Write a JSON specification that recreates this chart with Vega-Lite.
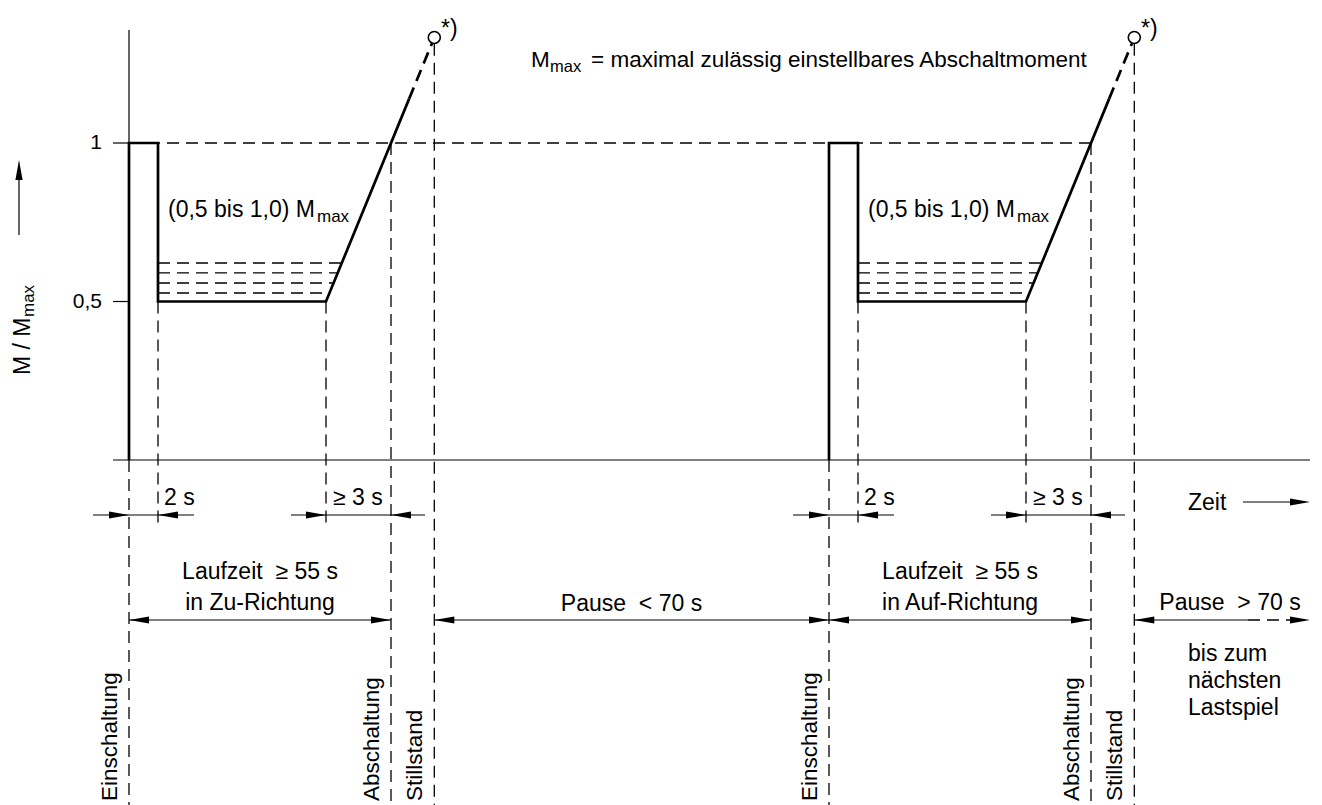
{
  "$schema": "https://vega.github.io/schema/vega-lite/v6.json",
  "width": 1322,
  "height": 805,
  "autosize": {"type": "none"},
  "padding": 0,
  "background": "white",
  "config": {
    "view": {"stroke": null},
    "text": {"font": "Liberation Sans, Arial, sans-serif", "fill": "black"}
  },
  "datasets": {
    "thick": [
      {"id": "p1", "k": 1, "x": 0, "y": 0}, {"id": "p1", "k": 2, "x": 0, "y": 1}, {"id": "p1", "k": 3, "x": 29, "y": 1},
      {"id": "p1", "k": 4, "x": 29, "y": 0.5}, {"id": "p1", "k": 5, "x": 197, "y": 0.5}, {"id": "p1", "k": 6, "x": 280.2, "y": 1.14},
      {"id": "p2", "k": 1, "x": 700, "y": 0}, {"id": "p2", "k": 2, "x": 700, "y": 1}, {"id": "p2", "k": 3, "x": 729, "y": 1},
      {"id": "p2", "k": 4, "x": 729, "y": 0.5}, {"id": "p2", "k": 5, "x": 897, "y": 0.5}, {"id": "p2", "k": 6, "x": 980.2, "y": 1.14}
    ],
    "thickdash": [
      {"id": "d1", "k": 1, "x": 280.2, "y": 1.14}, {"id": "d1", "k": 2, "x": 303, "y": 1.315},
      {"id": "d2", "k": 1, "x": 980.2, "y": 1.14}, {"id": "d2", "k": 2, "x": 1003, "y": 1.315}
    ],
    "thin": [
      {"id": "yaxis", "k": 1, "x": 0, "y": 0}, {"id": "yaxis", "k": 2, "x": 0, "y": 1.3565},
      {"id": "xaxis", "k": 1, "x": -16, "y": 0}, {"id": "xaxis", "k": 2, "x": 1181, "y": 0},
      {"id": "t1", "k": 1, "x": -16, "y": 1}, {"id": "t1", "k": 2, "x": 0, "y": 1},
      {"id": "t05", "k": 1, "x": -16, "y": 0.5}, {"id": "t05", "k": 2, "x": 0, "y": 0.5},
      {"id": "r1a", "k": 1, "x": -36, "y": -0.1735}, {"id": "r1a", "k": 2, "x": 65, "y": -0.1735},
      {"id": "r1b", "k": 1, "x": 162, "y": -0.1735}, {"id": "r1b", "k": 2, "x": 296, "y": -0.1735},
      {"id": "r1c", "k": 1, "x": 664, "y": -0.1735}, {"id": "r1c", "k": 2, "x": 765, "y": -0.1735},
      {"id": "r1d", "k": 1, "x": 862, "y": -0.1735}, {"id": "r1d", "k": 2, "x": 996, "y": -0.1735},
      {"id": "r2a", "k": 1, "x": 0, "y": -0.5047}, {"id": "r2a", "k": 2, "x": 262, "y": -0.5047},
      {"id": "r2b", "k": 1, "x": 305.3, "y": -0.5047}, {"id": "r2b", "k": 2, "x": 700, "y": -0.5047},
      {"id": "r2c", "k": 1, "x": 700, "y": -0.5047}, {"id": "r2c", "k": 2, "x": 962, "y": -0.5047},
      {"id": "r2d", "k": 1, "x": 1005.3, "y": -0.5047}, {"id": "r2d", "k": 2, "x": 1119, "y": -0.5047},
      {"id": "zeit", "k": 1, "x": 1114, "y": -0.1325}, {"id": "zeit", "k": 2, "x": 1170, "y": -0.1325},
      {"id": "yarr", "k": 1, "x": -110, "y": 0.7098}, {"id": "yarr", "k": 2, "x": -110, "y": 0.91}
    ],
    "thindash": [
      {"id": "h1", "k": 1, "x": 0, "y": 1}, {"id": "h1", "k": 2, "x": 962, "y": 1},
      {"id": "l1a", "k": 1, "x": 29, "y": 0.5268}, {"id": "l1a", "k": 2, "x": 200.5, "y": 0.5268},
      {"id": "l1b", "k": 1, "x": 29, "y": 0.5584}, {"id": "l1b", "k": 2, "x": 204.6, "y": 0.5584},
      {"id": "l1c", "k": 1, "x": 29, "y": 0.59}, {"id": "l1c", "k": 2, "x": 208.7, "y": 0.59},
      {"id": "l1d", "k": 1, "x": 29, "y": 0.6215}, {"id": "l1d", "k": 2, "x": 212.8, "y": 0.6215},
      {"id": "l2a", "k": 1, "x": 729, "y": 0.5268}, {"id": "l2a", "k": 2, "x": 900.5, "y": 0.5268},
      {"id": "l2b", "k": 1, "x": 729, "y": 0.5584}, {"id": "l2b", "k": 2, "x": 904.6, "y": 0.5584},
      {"id": "l2c", "k": 1, "x": 729, "y": 0.59}, {"id": "l2c", "k": 2, "x": 908.7, "y": 0.59},
      {"id": "l2d", "k": 1, "x": 729, "y": 0.6215}, {"id": "l2d", "k": 2, "x": 912.8, "y": 0.6215},
      {"id": "v1a", "k": 1, "x": 0, "y": 0}, {"id": "v1a", "k": 2, "x": 0, "y": -1.0883},
      {"id": "v1b", "k": 1, "x": 29, "y": 0.5}, {"id": "v1b", "k": 2, "x": 29, "y": -0.205},
      {"id": "v1c", "k": 1, "x": 197, "y": 0.5}, {"id": "v1c", "k": 2, "x": 197, "y": -0.205},
      {"id": "v1d", "k": 1, "x": 262, "y": 1}, {"id": "v1d", "k": 2, "x": 262, "y": -1.0883},
      {"id": "v1e", "k": 1, "x": 305.3, "y": 1.313}, {"id": "v1e", "k": 2, "x": 305.3, "y": -1.0883},
      {"id": "v2a", "k": 1, "x": 700, "y": 0}, {"id": "v2a", "k": 2, "x": 700, "y": -1.0883},
      {"id": "v2b", "k": 1, "x": 729, "y": 0.5}, {"id": "v2b", "k": 2, "x": 729, "y": -0.205},
      {"id": "v2c", "k": 1, "x": 897, "y": 0.5}, {"id": "v2c", "k": 2, "x": 897, "y": -0.205},
      {"id": "v2d", "k": 1, "x": 962, "y": 1}, {"id": "v2d", "k": 2, "x": 962, "y": -1.0883},
      {"id": "v2e", "k": 1, "x": 1005.3, "y": 1.313}, {"id": "v2e", "k": 2, "x": 1005.3, "y": -1.0883},
      {"id": "pz", "k": 1, "x": 1119, "y": -0.5047}, {"id": "pz", "k": 2, "x": 1170, "y": -0.5047}
    ],
    "arrows": [
      {"x": 0, "y": -0.1735, "d": "r"}, {"x": 29, "y": -0.1735, "d": "l"}, {"x": 197, "y": -0.1735, "d": "r"}, {"x": 262, "y": -0.1735, "d": "l"},
      {"x": 700, "y": -0.1735, "d": "r"}, {"x": 729, "y": -0.1735, "d": "l"}, {"x": 897, "y": -0.1735, "d": "r"}, {"x": 962, "y": -0.1735, "d": "l"},
      {"x": 0, "y": -0.5047, "d": "l"}, {"x": 262, "y": -0.5047, "d": "r"}, {"x": 305.3, "y": -0.5047, "d": "l"}, {"x": 700, "y": -0.5047, "d": "r"},
      {"x": 700, "y": -0.5047, "d": "l"}, {"x": 962, "y": -0.5047, "d": "r"}, {"x": 1005.3, "y": -0.5047, "d": "l"}, {"x": 1181, "y": -0.5047, "d": "r"},
      {"x": 1181, "y": -0.1325, "d": "r"}, {"x": -110, "y": 0.9464, "d": "u"}
    ],
    "circles": [
      {"x": 305.3, "y": 1.333}, {"x": 1005.3, "y": 1.333}
    ],
    "textLeft": [
      {"x": 35, "y": -0.142, "t": "2 s", "fs": 23},
      {"x": 735, "y": -0.142, "t": "2 s", "fs": 23},
      {"x": 204, "y": -0.142, "t": "≥ 3 s", "fs": 23},
      {"x": 904, "y": -0.142, "t": "≥ 3 s", "fs": 23},
      {"x": 39, "y": 0.7675, "t": "(0,5 bis 1,0) M", "fs": 23},
      {"x": 739, "y": 0.7675, "t": "(0,5 bis 1,0) M", "fs": 23},
      {"x": 188, "y": 0.752, "t": "max", "fs": 17},
      {"x": 888, "y": 0.752, "t": "max", "fs": 17},
      {"x": 1059, "y": -0.1577, "t": "Zeit", "fs": 23},
      {"x": 1059, "y": -0.634, "t": "bis zum", "fs": 23},
      {"x": 1059, "y": -0.719, "t": "nächsten", "fs": 23},
      {"x": 1059, "y": -0.804, "t": "Lastspiel", "fs": 23},
      {"x": 402, "y": 1.2407, "t": "M", "fs": 22.5},
      {"x": 421, "y": 1.225, "t": "max", "fs": 16.5},
      {"x": 462, "y": 1.2407, "t": "= maximal zulässig einstellbares Abschaltmoment", "fs": 22.5},
      {"x": 312, "y": 1.3375, "t": "*)", "fs": 23},
      {"x": 1012, "y": 1.3375, "t": "*)", "fs": 23}
    ],
    "textCenter": [
      {"x": 131, "y": -0.3754, "t": "Laufzeit\u00a0 ≥ 55 s", "fs": 23},
      {"x": 131, "y": -0.4732, "t": "in Zu-Richtung", "fs": 23},
      {"x": 502.5, "y": -0.4763, "t": "Pause\u00a0 < 70 s", "fs": 23},
      {"x": 831, "y": -0.3754, "t": "Laufzeit\u00a0 ≥ 55 s", "fs": 23},
      {"x": 831, "y": -0.4732, "t": "in Auf-Richtung", "fs": 23},
      {"x": 1101, "y": -0.4732, "t": "Pause\u00a0 > 70 s", "fs": 23}
    ],
    "textTick": [
      {"x": -27, "y": 1, "t": "1", "fs": 21},
      {"x": -27, "y": 0.5, "t": "0,5", "fs": 21}
    ],
    "textRot": [
      {"x": -12, "y": -1.0757, "t": "Einschaltung", "fs": 22.5},
      {"x": 250, "y": -1.0757, "t": "Abschaltung", "fs": 22.5},
      {"x": 293, "y": -1.0757, "t": "Stillstand", "fs": 22.5},
      {"x": 688, "y": -1.0757, "t": "Einschaltung", "fs": 22.5},
      {"x": 950, "y": -1.0757, "t": "Abschaltung", "fs": 22.5},
      {"x": 993, "y": -1.0757, "t": "Stillstand", "fs": 22.5},
      {"x": -99, "y": 0.2681, "t": "M / M", "fs": 23},
      {"x": -95, "y": 0.451, "t": "max", "fs": 17}
    ]
  },
  "encoding": {
    "x": {"field": "x", "type": "quantitative", "scale": {"domain": [-129, 1193], "nice": false, "zero": false}, "axis": null},
    "y": {"field": "y", "type": "quantitative", "scale": {"domain": [-1.0883, 1.4511], "nice": false, "zero": false}, "axis": null}
  },
  "layer": [
    {
      "data": {"name": "thin"},
      "mark": {"type": "line", "color": "black", "strokeWidth": 1.2, "strokeCap": "butt"},
      "encoding": {"detail": {"field": "id"}, "order": {"field": "k"}}
    },
    {
      "data": {"name": "thindash"},
      "mark": {"type": "line", "color": "black", "strokeWidth": 1.3, "strokeDash": [12, 7], "strokeCap": "butt"},
      "encoding": {"detail": {"field": "id"}, "order": {"field": "k"}}
    },
    {
      "data": {"name": "thick"},
      "mark": {"type": "line", "color": "black", "strokeWidth": 2.7, "strokeCap": "butt", "strokeJoin": "miter"},
      "encoding": {"detail": {"field": "id"}, "order": {"field": "k"}}
    },
    {
      "data": {"name": "thickdash"},
      "mark": {"type": "line", "color": "black", "strokeWidth": 2.7, "strokeDash": [12, 7], "strokeCap": "butt"},
      "encoding": {"detail": {"field": "id"}, "order": {"field": "k"}}
    },
    {
      "data": {"name": "arrows"},
      "mark": {"type": "point", "filled": true, "color": "black", "opacity": 1, "size": 400, "strokeWidth": 0},
      "encoding": {
        "shape": {"field": "d", "type": "nominal", "legend": null,
          "scale": {"domain": ["r", "l", "u"], "range": ["M0,0L-2,-0.36L-2,0.36Z", "M0,0L2,-0.36L2,0.36Z", "M0,0L-0.36,2L0.36,2Z"]}}
      }
    },
    {
      "data": {"name": "circles"},
      "mark": {"type": "point", "shape": "circle", "size": 144, "filled": true, "fill": "white", "stroke": "black", "strokeWidth": 1.6, "opacity": 1}
    },
    {
      "data": {"name": "textLeft"},
      "mark": {"type": "text", "align": "left", "baseline": "alphabetic"},
      "encoding": {"text": {"field": "t"}, "size": {"field": "fs", "type": "quantitative", "scale": null}}
    },
    {
      "data": {"name": "textCenter"},
      "mark": {"type": "text", "align": "center", "baseline": "alphabetic"},
      "encoding": {"text": {"field": "t"}, "size": {"field": "fs", "type": "quantitative", "scale": null}}
    },
    {
      "data": {"name": "textTick"},
      "mark": {"type": "text", "align": "right", "baseline": "middle"},
      "encoding": {"text": {"field": "t"}, "size": {"field": "fs", "type": "quantitative", "scale": null}}
    },
    {
      "data": {"name": "textRot"},
      "mark": {"type": "text", "align": "left", "baseline": "alphabetic", "angle": 270},
      "encoding": {"text": {"field": "t"}, "size": {"field": "fs", "type": "quantitative", "scale": null}}
    }
  ]
}
